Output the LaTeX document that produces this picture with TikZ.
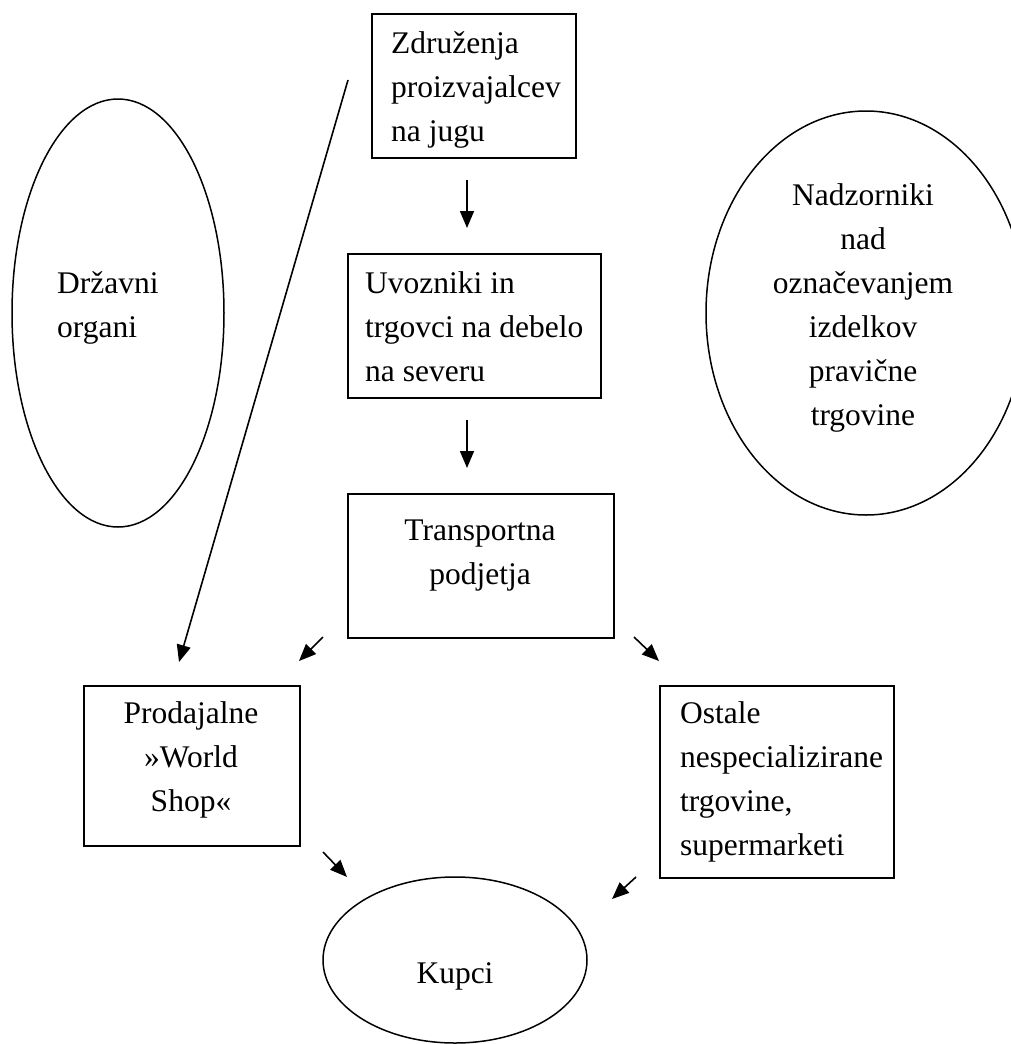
\documentclass[tikz,border=0pt]{standalone}
\usepackage{fontspec}
\setmainfont{Liberation Serif}
\usetikzlibrary{shapes.geometric,arrows.meta}
\tikzset{
  box/.style={draw, line width=1.5pt, inner sep=0pt, anchor=north west},
  oval/.style={draw, ellipse, line width=1.5pt, inner sep=0pt},
  txt/.style={inner sep=0pt, font=\fontsize{31.5}{44}\selectfont},
  arr/.style={line width=1.6pt, -{Triangle[length=17pt,width=14pt]}},
}
\begin{document}
\begin{tikzpicture}[x=1pt,y=-1pt]
\useasboundingbox (0,0) rectangle (1011,1044);
\clip (0,0) rectangle (1011,1044);
\fill[white] (0,0) rectangle (1011,1044);
% boxes
\node[box, minimum width=204pt, minimum height=144pt] (b1) at (371,13) {};
\node[box, minimum width=253pt, minimum height=144pt] (b2) at (347,253) {};
\node[box, minimum width=266pt, minimum height=144pt] (b3) at (347,493) {};
\node[box, minimum width=216pt, minimum height=160pt] (b4) at (83,685) {};
\node[box, minimum width=234pt, minimum height=192pt] (b5) at (659,685) {};
% ellipses
\node[oval, minimum width=212pt, minimum height=428pt] (e1) at (118,313) {};
\node[oval, minimum width=320pt, minimum height=404pt] (e2) at (866,313) {};
\node[oval, minimum width=264pt, minimum height=166pt] (e3) at (455,960) {};
% texts
\node[txt, anchor=north west, align=left] (t1) at (391,22.2) {\strut Združenja\\\strut proizvajalcev\\\strut na jugu};
\node[txt, anchor=north west, align=left] (t2) at (365,262.2) {\strut Uvozniki in\\\strut trgovci na debelo\\\strut na severu};
\node[txt, anchor=north, align=center] (t3) at (480,509.2) {\strut Transportna\\\strut podjetja};
\node[txt, anchor=north, align=center] (t4) at (191,692.2) {\strut Prodajalne\\\strut »World\\\strut Shop«};
\node[txt, anchor=north west, align=left] (t5) at (680,692.2) {\strut Ostale\\\strut nespecializirane\\\strut trgovine,\\\strut supermarketi};
\node[txt, anchor=north west, align=left] (t6) at (57,262.2) {\strut Državni\\\strut organi};
\node[txt, anchor=north, align=center] (t7) at (863,174.2) {\strut Nadzorniki\\\strut nad\\\strut označevanjem\\\strut izdelkov\\\strut pravične\\\strut trgovine};
\node[txt, anchor=base] (t8) at (455,983) {Kupci};
% arrow coordinates
\coordinate (a1s) at (467,180); \coordinate (a1e) at (467,228);
\coordinate (a2s) at (467,420); \coordinate (a2e) at (467,468);
\coordinate (a3s) at (323,637); \coordinate (a3e) at (299,661);
\coordinate (a4s) at (634,637); \coordinate (a4e) at (659,661);
\coordinate (a5s) at (323,852); \coordinate (a5e) at (347,877);
\coordinate (a6s) at (636,877); \coordinate (a6e) at (612,899);
\coordinate (l1s) at (348,80);  \coordinate (l1e) at (179,662);
\draw[arr] (a1s) -- (a1e);
\draw[arr] (a2s) -- (a2e);
\draw[arr] (a3s) -- (a3e);
\draw[arr] (a4s) -- (a4e);
\draw[arr] (a5s) -- (a5e);
\draw[arr] (a6s) -- (a6e);
\draw[arr] (l1s) -- (l1e);
\end{tikzpicture}
\end{document}
